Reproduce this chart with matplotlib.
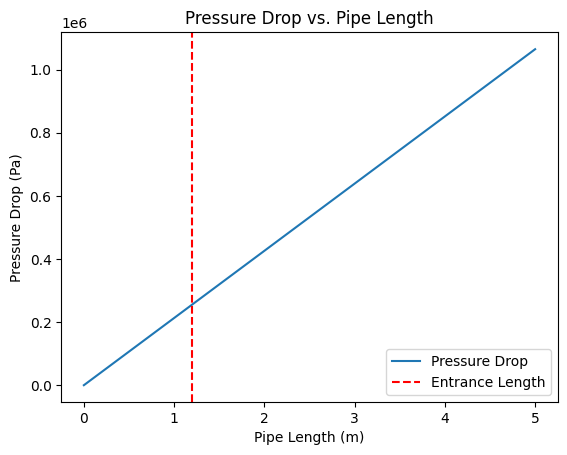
import numpy as np
import matplotlib.pyplot as plt

# data
pipe_length = [0.0, 1.0, 2.0, 3.0, 4.0, 5.0]
pressure_drop = [0.0, 0.2131e6, 0.4262e6, 0.6393e6, 0.8524e6, 1.0656e6]
entrance_length = 1.2

fig = plt.figure(figsize=(5.67, 4.55), dpi=100)
ax = fig.add_axes([61.3 / 567, 1 - 402 / 455, 496.4 / 567, 369.6 / 455])

ax.plot(pipe_length, pressure_drop, label='Pressure Drop')
ax.axvline(entrance_length, color='r', linestyle='--', label='Entrance Length')

ax.set_xlabel('Pipe Length (m)')
ax.set_ylabel('Pressure Drop (Pa)')
ax.set_title('Pressure Drop vs. Pipe Length')
ax.legend(loc='lower right')

fig.savefig('out.png', dpi=100)
